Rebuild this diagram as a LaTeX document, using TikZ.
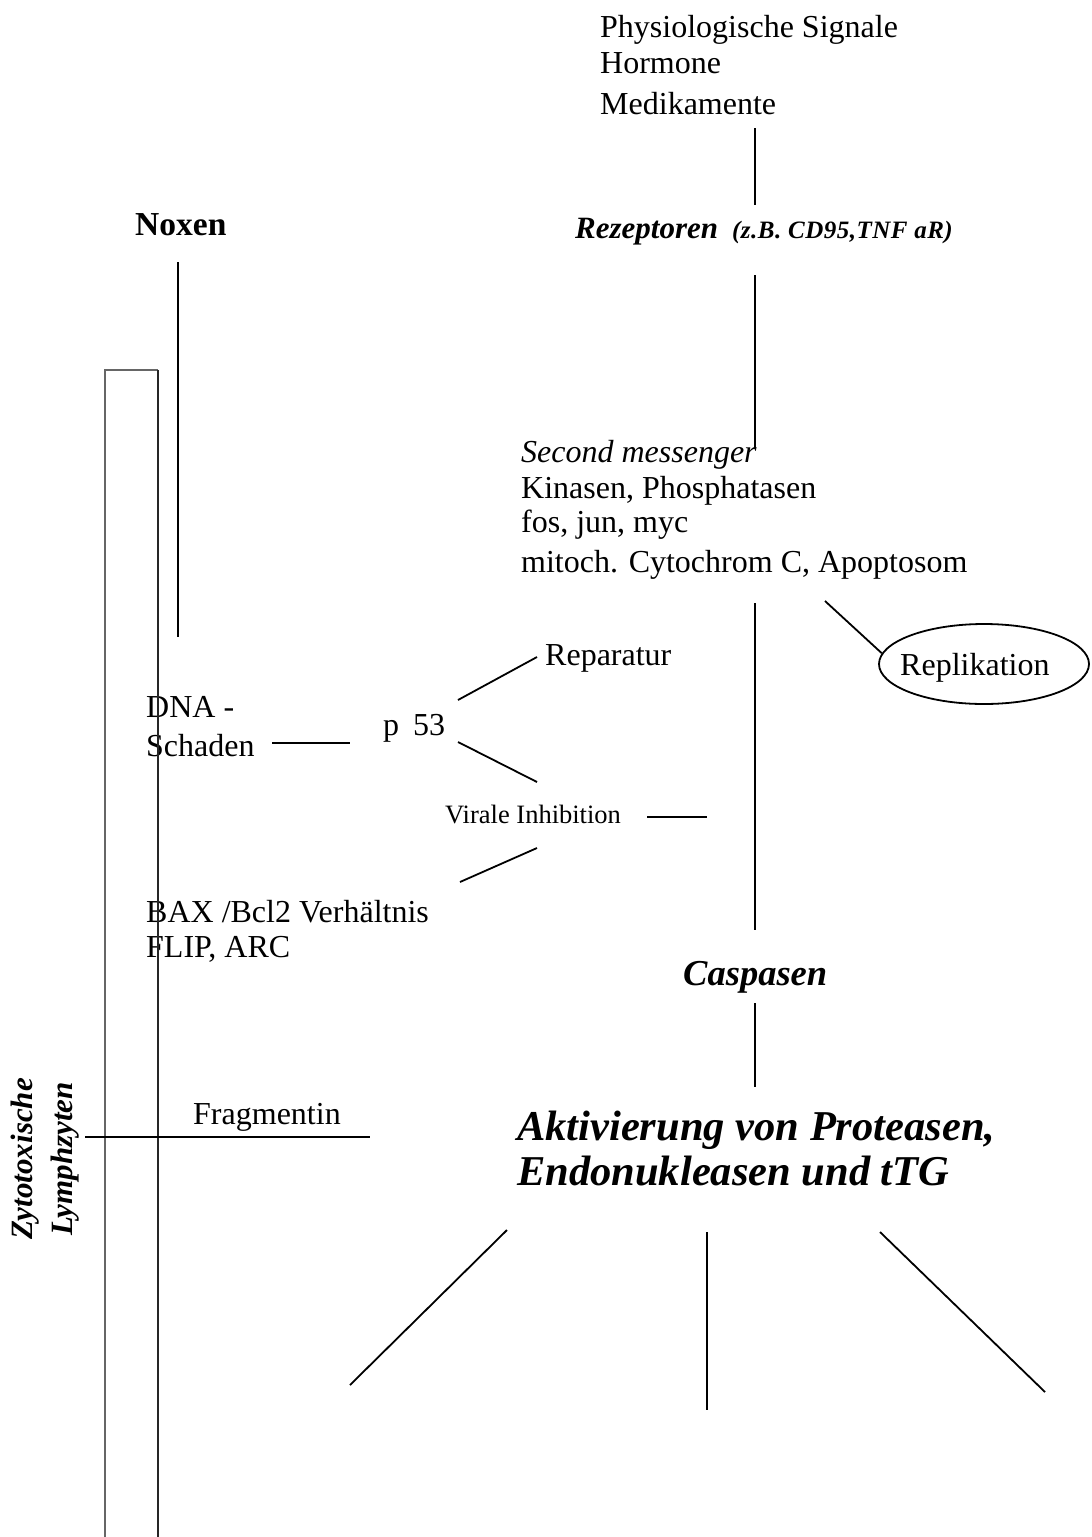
\documentclass[tikz,border=0pt]{standalone}
\usepackage{fontspec}
\setmainfont{Liberation Serif}
\usetikzlibrary{shapes.geometric}
\begin{document}
\begin{tikzpicture}[x=1pt,y=-1pt,
  txt/.style={inner sep=0pt, anchor=base west, font=\fontsize{32}{38}\selectfont},
  small/.style={inner sep=0pt, anchor=base west, font=\fontsize{26.5}{31}\selectfont},
  bi/.style={inner sep=0pt, anchor=base west, font=\fontsize{#1}{#1}\selectfont\bfseries\itshape},
  conn/.style={line width=1.8pt, black},
  oval/.style={draw, ellipse, line width=1.8pt, inner sep=0pt, minimum width=210pt, minimum height=80pt}]
\useasboundingbox (0,0) rectangle (1092,1537);

% texts
\node[txt] (phys) at (600,37) {Physiologische Signale};
\node[txt] (horm) at (600,73) {Hormone};
\node[txt] (medi) at (600,114) {Medikamente};
\node[bi=31] (rez) at (575,238) {Rezeptoren\hspace{14pt}{\fontsize{25}{25}\selectfont\addfontfeature{LetterSpace=2}(z.B. CD95,TNF aR)}};
\node[inner sep=0pt, anchor=base west, font=\fontsize{33.5}{33.5}\selectfont\bfseries] (nox) at (135,235) {Noxen};
\node[txt] (sec) at (521,462) {\itshape Second messenger};
\node[txt] (kin) at (521,498) {Kinasen, Phosphatasen};
\node[txt] (fos) at (521,532) {fos, jun, myc};
\node[txt] (mit) at (521,572) {mitoch. Cytochrom C, Apoptosom};
\node[oval] (repl) at (984,664) {};
\node[txt] (repltxt) at (900,675) {Replikation};
\node[txt] (rep) at (545,665) {Reparatur};
\node[txt] (p53) at (383,735) {p\hspace{14pt}53};
\node[txt] (dna) at (146,717) {DNA -};
\node[txt] (sch) at (146,756) {Schaden};
\node[small] (vir) at (445,823) {Virale Inhibition};
\node[txt] (bax) at (146,922) {BAX /Bcl2 Verh\"altnis};
\node[txt] (flip) at (146,957) {FLIP, ARC};
\node[bi=36.5] (casp) at (683,985) {Caspasen};
\node[bi=42.5] (akt1) at (517,1140) {Aktivierung von Proteasen,};
\node[bi=42.5] (akt2) at (517,1185) {Endonukleasen und tTG};
\node[txt] (frag) at (193,1124) {Fragmentin};
\node[rotate=90, inner sep=0pt, align=center, font=\fontsize{31}{40}\selectfont\bfseries\itshape] (zyto) at (45,1159) {Zytotoxische\\Lymphzyten};

% box (shape)
\draw[line width=1.2pt, gray!80!black] (158,370) -- (105,370) -- (105,1537);
\draw[line width=2pt, black!85] (158,370) -- (158,1537);

% connector end points
\coordinate (a1) at (755,128); \coordinate (a2) at (755,205);
\coordinate (b1) at (755,275); \coordinate (b2) at (755,448);
\coordinate (n1) at (178,262); \coordinate (n2) at (178,637);
\coordinate (d1) at (755,603); \coordinate (d2) at (755,930);
\coordinate (r1) at (825,601);
\coordinate (p1) at (458,700); \coordinate (p2) at (537,657);
\coordinate (p3) at (458,742); \coordinate (p4) at (537,782);
\coordinate (s1) at (272,743); \coordinate (s2) at (350,743);
\coordinate (v1) at (647,817); \coordinate (v2) at (707,817);
\coordinate (x1) at (460,882); \coordinate (x2) at (537,848);
\coordinate (c1) at (755,1003); \coordinate (c2) at (755,1087);
\coordinate (f1) at (85,1137); \coordinate (f2) at (370,1137);
\coordinate (l1) at (507,1230); \coordinate (l2) at (350,1385);
\coordinate (m1) at (707,1232); \coordinate (m2) at (707,1410);
\coordinate (k1) at (880,1232); \coordinate (k2) at (1045,1392);

\draw[conn] (a1) -- (a2);
\draw[conn] (b1) -- (b2);
\draw[conn] (n1) -- (n2);
\draw[conn] (d1) -- (d2);
\draw[conn] (r1) -- (repl.174);
\draw[conn] (p1) -- (p2);
\draw[conn] (p3) -- (p4);
\draw[conn] (s1) -- (s2);
\draw[conn] (v1) -- (v2);
\draw[conn] (x1) -- (x2);
\draw[conn] (c1) -- (c2);
\draw[conn] (f1) -- (f2);
\draw[conn] (l1) -- (l2);
\draw[conn] (m1) -- (m2);
\draw[conn] (k1) -- (k2);
\end{tikzpicture}
\end{document}
